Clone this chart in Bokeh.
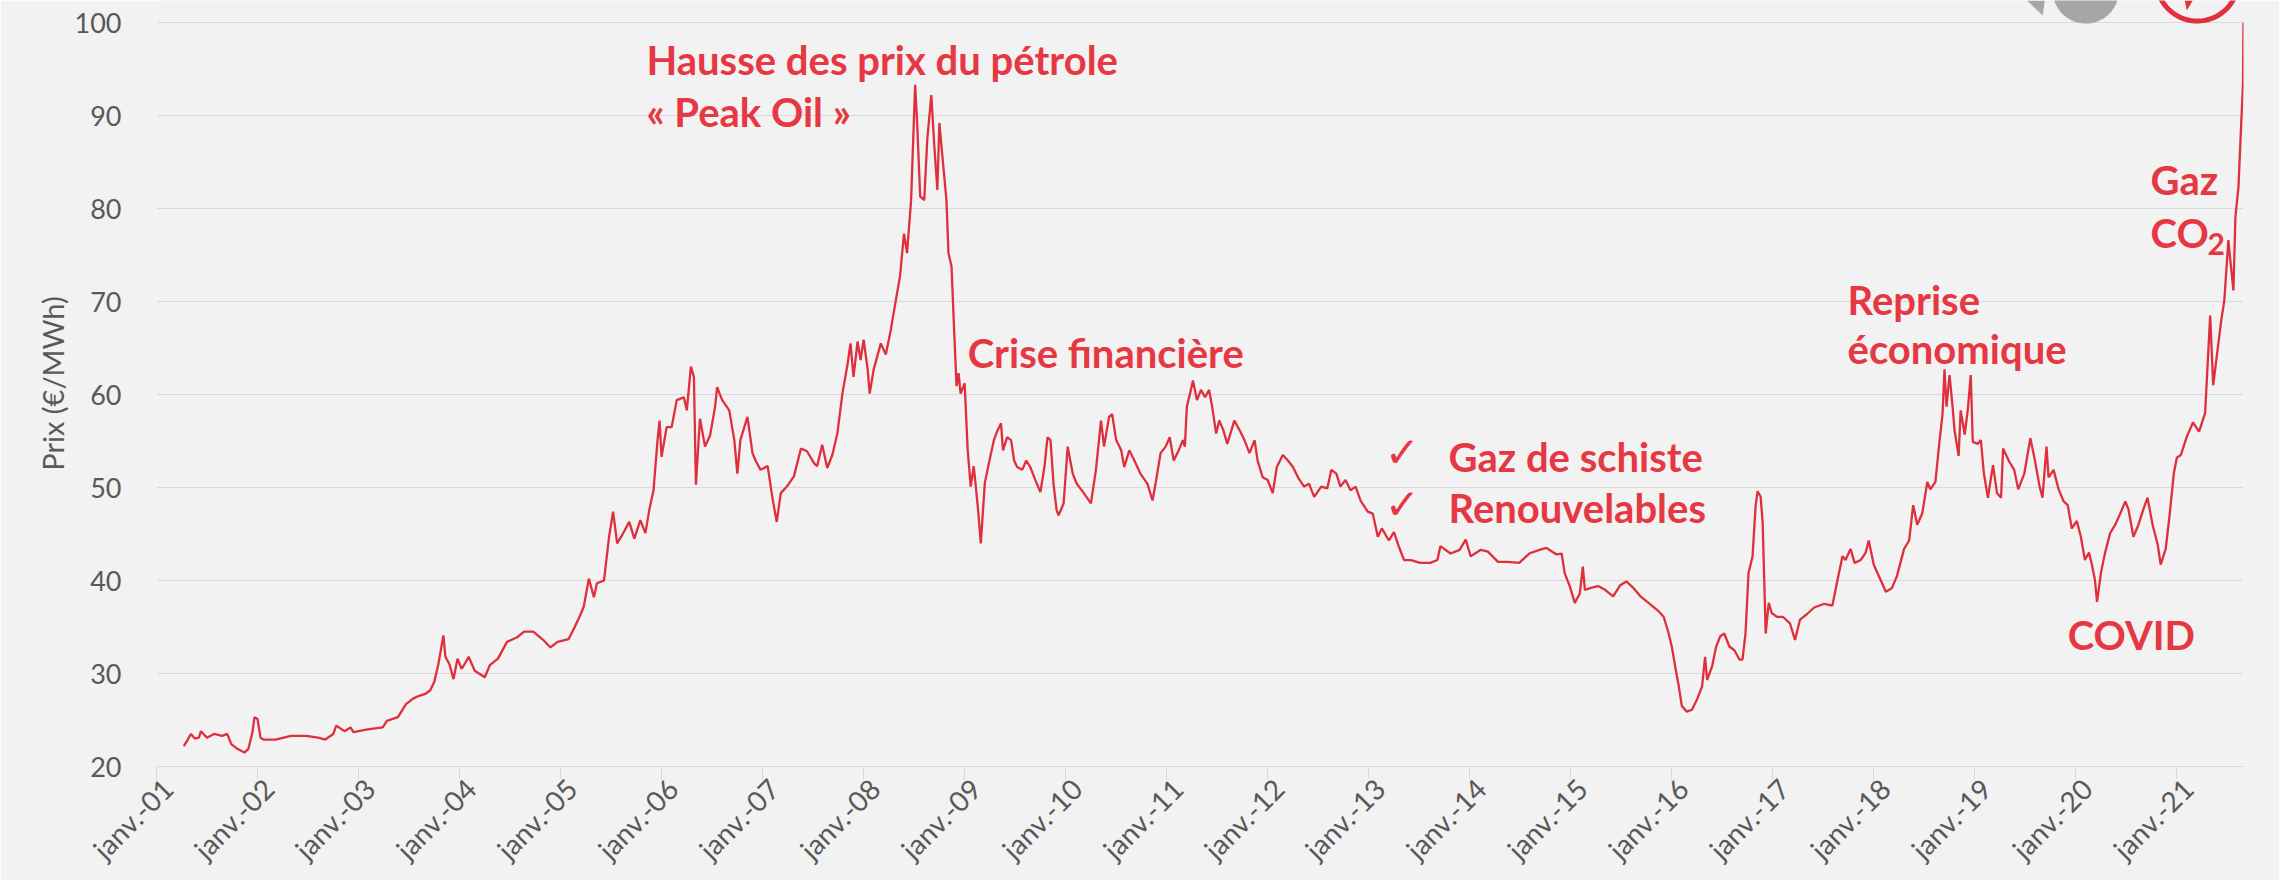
import math
import numpy as np
from bokeh.plotting import figure
from bokeh.models import Range1d, FixedTicker, ColumnDataSource, LinearAxis
from bokeh.embed import file_html
from bokeh.resources import INLINE
from bokeh.core.properties import value

# ---- series (decimal year, price EUR/MWh) ----
date_years = [
    2001.27, 2001.31, 2001.34, 2001.38, 2001.42, 2001.44, 2001.50, 2001.57, 2001.65, 2001.70,
    2001.74, 2001.80, 2001.87, 2001.91, 2001.95, 2001.97, 2002.00, 2002.03, 2002.06, 2002.18,
    2002.33, 2002.48, 2002.60, 2002.67, 2002.75, 2002.78, 2002.86, 2002.92, 2002.95, 2003.09,
    2003.24, 2003.28, 2003.39, 2003.47, 2003.54, 2003.60, 2003.66, 2003.71, 2003.75, 2003.79,
    2003.84, 2003.86, 2003.90, 2003.94, 2003.98, 2004.02, 2004.05, 2004.09, 2004.15, 2004.25,
    2004.30, 2004.38, 2004.47, 2004.57, 2004.64, 2004.73, 2004.83, 2004.90, 2004.97, 2005.08,
    2005.14, 2005.20, 2005.23, 2005.28, 2005.33, 2005.36, 2005.43, 2005.48, 2005.52, 2005.56,
    2005.61, 2005.68, 2005.73, 2005.79, 2005.84, 2005.88, 2005.92, 2005.96, 2005.98, 2006.00,
    2006.05, 2006.10, 2006.15, 2006.22, 2006.25, 2006.29, 2006.32, 2006.34, 2006.38, 2006.43,
    2006.48, 2006.53, 2006.55, 2006.60, 2006.67, 2006.72, 2006.75, 2006.78, 2006.85, 2006.90,
    2006.93, 2006.98, 2007.05, 2007.10, 2007.14, 2007.18, 2007.24, 2007.31, 2007.38, 2007.44,
    2007.51, 2007.54, 2007.59, 2007.64, 2007.69, 2007.74, 2007.79, 2007.84, 2007.87, 2007.90,
    2007.94, 2007.97, 2008.00, 2008.04, 2008.06, 2008.10, 2008.17, 2008.22, 2008.27, 2008.32,
    2008.36, 2008.40, 2008.43, 2008.47, 2008.51, 2008.53, 2008.56, 2008.60, 2008.63, 2008.67,
    2008.70, 2008.73, 2008.75, 2008.78, 2008.82, 2008.84, 2008.87, 2008.90, 2008.92, 2008.94,
    2008.96, 2009.00, 2009.03, 2009.06, 2009.09, 2009.13, 2009.16, 2009.20, 2009.24, 2009.29,
    2009.32, 2009.36, 2009.38, 2009.42, 2009.46, 2009.49, 2009.52, 2009.57, 2009.61, 2009.65,
    2009.70, 2009.75, 2009.79, 2009.82, 2009.85, 2009.88, 2009.91, 2009.93, 2009.98, 2010.02,
    2010.07, 2010.11, 2010.18, 2010.25, 2010.30, 2010.35, 2010.38, 2010.43, 2010.46, 2010.50,
    2010.55, 2010.58, 2010.63, 2010.68, 2010.74, 2010.81, 2010.86, 2010.89, 2010.94, 2010.99,
    2011.03, 2011.07, 2011.12, 2011.16, 2011.18, 2011.20, 2011.24, 2011.26, 2011.30, 2011.34,
    2011.38, 2011.42, 2011.45, 2011.49, 2011.52, 2011.56, 2011.60, 2011.67, 2011.72, 2011.77,
    2011.82, 2011.87, 2011.90, 2011.95, 2012.00, 2012.05, 2012.09, 2012.15, 2012.20, 2012.25,
    2012.30, 2012.36, 2012.41, 2012.46, 2012.53, 2012.59, 2012.63, 2012.68, 2012.72, 2012.77,
    2012.82, 2012.87, 2012.92, 2012.99, 2013.04, 2013.09, 2013.13, 2013.20, 2013.25, 2013.30,
    2013.35, 2013.42, 2013.51, 2013.61, 2013.68, 2013.71, 2013.81, 2013.90, 2013.96, 2014.01,
    2014.11, 2014.18, 2014.28, 2014.37, 2014.49, 2014.59, 2014.69, 2014.76, 2014.86, 2014.91,
    2014.94, 2014.99, 2015.04, 2015.09, 2015.12, 2015.14, 2015.20, 2015.27, 2015.34, 2015.42,
    2015.49, 2015.55, 2015.62, 2015.69, 2015.77, 2015.86, 2015.92, 2015.97, 2016.00, 2016.04,
    2016.07, 2016.10, 2016.15, 2016.20, 2016.25, 2016.30, 2016.33, 2016.35, 2016.40, 2016.44,
    2016.48, 2016.52, 2016.57, 2016.62, 2016.67, 2016.70, 2016.73, 2016.76, 2016.80, 2016.83,
    2016.85, 2016.88, 2016.90, 2016.93, 2016.96, 2016.99, 2017.04, 2017.10, 2017.17, 2017.22,
    2017.27, 2017.34, 2017.41, 2017.51, 2017.59, 2017.64, 2017.69, 2017.72, 2017.77, 2017.81,
    2017.87, 2017.92, 2017.95, 2018.00, 2018.07, 2018.12, 2018.18, 2018.23, 2018.30, 2018.35,
    2018.39, 2018.43, 2018.48, 2018.53, 2018.56, 2018.61, 2018.65, 2018.68, 2018.70, 2018.72,
    2018.75, 2018.78, 2018.80, 2018.84, 2018.86, 2018.90, 2018.93, 2018.96, 2018.98, 2019.03,
    2019.06, 2019.09, 2019.13, 2019.18, 2019.22, 2019.26, 2019.28, 2019.34, 2019.39, 2019.43,
    2019.49, 2019.55, 2019.59, 2019.64, 2019.67, 2019.71, 2019.73, 2019.78, 2019.83, 2019.88,
    2019.92, 2019.96, 2020.01, 2020.05, 2020.09, 2020.13, 2020.16, 2020.19, 2020.21, 2020.25,
    2020.29, 2020.34, 2020.39, 2020.44, 2020.49, 2020.52, 2020.57, 2020.62, 2020.67, 2020.71,
    2020.76, 2020.81, 2020.84, 2020.89, 2020.93, 2020.97, 2021.00, 2021.04, 2021.10, 2021.16,
    2021.22, 2021.28, 2021.33, 2021.36, 2021.40, 2021.44, 2021.47, 2021.51, 2021.53, 2021.56,
    2021.58, 2021.61, 2021.63, 2021.655, 2021.66,
]
price_eur_mwh = [
    22.2, 22.9, 23.5, 23.0, 23.1, 23.8, 23.1, 23.5, 23.3, 23.5,
    22.4, 21.9, 21.5, 21.9, 23.7, 25.3, 25.1, 23.1, 22.9, 22.9,
    23.3, 23.3, 23.1, 22.9, 23.5, 24.4, 23.8, 24.2, 23.7, 24.0,
    24.2, 24.9, 25.3, 26.7, 27.3, 27.6, 27.8, 28.2, 29.1, 31.0,
    34.1, 31.8, 31.0, 29.4, 31.6, 30.5, 31.0, 31.8, 30.3, 29.6,
    30.9, 31.6, 33.4, 33.9, 34.5, 34.5, 33.6, 32.8, 33.4, 33.7,
    35.0, 36.4, 37.2, 40.2, 38.2, 39.7, 40.0, 44.7, 47.4, 44.0,
    44.9, 46.3, 44.5, 46.5, 45.1, 47.7, 49.7, 55.1, 57.2, 53.3,
    56.5, 56.5, 59.4, 59.7, 58.3, 63.0, 61.9, 50.3, 57.4, 54.4,
    55.6, 58.7, 60.8, 59.4, 58.3, 55.1, 51.5, 55.1, 57.6, 53.7,
    52.9, 51.9, 52.3, 48.7, 46.3, 49.4, 50.1, 51.2, 54.2, 53.9,
    52.6, 52.3, 54.6, 52.1, 53.5, 55.8, 60.1, 63.2, 65.5, 61.9,
    65.7, 63.7, 65.9, 62.7, 60.1, 62.7, 65.5, 64.3, 67.0, 70.2,
    72.7, 77.3, 75.2, 80.9, 93.3, 89.2, 81.3, 80.9, 87.4, 92.2,
    86.7, 82.0, 89.2, 85.6, 80.9, 75.2, 73.8, 65.9, 60.9, 62.3,
    60.1, 61.2, 54.1, 50.1, 52.3, 48.0, 44.0, 50.5, 52.6, 55.1,
    56.0, 56.9, 54.0, 55.4, 55.1, 52.9, 52.2, 51.9, 52.9, 52.2,
    50.8, 49.5, 52.2, 55.4, 55.1, 50.4, 47.6, 47.0, 48.3, 54.4,
    51.5, 50.4, 49.4, 48.3, 51.9, 57.2, 54.4, 57.6, 57.9, 55.1,
    54.0, 52.2, 54.0, 52.9, 51.5, 50.4, 48.6, 50.4, 53.7, 54.4,
    55.4, 52.9, 54.0, 55.1, 54.4, 58.7, 60.5, 61.5, 59.4, 60.5,
    59.7, 60.5, 58.7, 55.8, 57.2, 56.2, 54.7, 57.2, 56.2, 55.1,
    53.7, 55.1, 52.9, 51.1, 50.8, 49.4, 52.2, 53.5, 52.9, 52.2,
    51.1, 50.1, 50.4, 49.0, 50.1, 49.9, 51.9, 51.5, 50.1, 50.8,
    49.7, 50.1, 48.6, 47.4, 47.2, 44.7, 45.6, 44.3, 45.2, 43.6,
    42.2, 42.2, 41.9, 41.9, 42.2, 43.7, 42.9, 43.3, 44.4, 42.6,
    43.3, 43.1, 42.0, 42.0, 41.9, 42.9, 43.3, 43.5, 42.8, 42.9,
    40.8, 39.4, 37.6, 38.6, 41.5, 39.0, 39.2, 39.4, 39.0, 38.3,
    39.5, 39.9, 39.2, 38.3, 37.6, 36.8, 36.1, 34.3, 32.9, 30.4,
    28.6, 26.5, 25.9, 26.1, 27.2, 28.6, 31.8, 29.3, 30.8, 32.9,
    34.0, 34.3, 32.9, 32.5, 31.5, 31.5, 34.3, 40.8, 42.6, 48.0,
    49.6, 49.0, 46.2, 34.3, 37.6, 36.5, 36.1, 36.1, 35.4, 33.6,
    35.8, 36.4, 37.1, 37.5, 37.3, 40.0, 42.6, 42.2, 43.4, 41.9,
    42.2, 43.0, 44.3, 41.7, 40.0, 38.8, 39.2, 40.5, 43.4, 44.3,
    48.1, 46.0, 47.2, 50.6, 49.8, 50.6, 54.9, 57.8, 62.7, 58.7,
    62.1, 58.7, 56.1, 53.4, 58.3, 55.7, 58.3, 62.1, 54.9, 54.7,
    55.1, 51.5, 48.9, 52.4, 49.4, 48.9, 54.2, 52.8, 51.9, 49.8,
    51.5, 55.3, 53.2, 50.2, 48.9, 54.4, 51.1, 51.9, 49.8, 48.5,
    48.1, 45.6, 46.4, 44.7, 42.2, 43.0, 41.7, 40.0, 37.7, 40.9,
    43.0, 45.1, 46.0, 47.2, 48.5, 47.7, 44.7, 46.0, 47.7, 48.9,
    46.0, 43.9, 41.7, 43.4, 47.2, 51.5, 53.2, 53.5, 55.5, 57.0,
    56.0, 58.0, 68.5, 61.0, 64.5, 68.0, 70.1, 76.6, 74.4, 71.2,
    79.1, 82.3, 87.3, 93.4, 100.0,
]

# ---- axes ----
tick_years = list(range(2001, 2022))
tick_labels = ["janv.-%02d" % (y % 100) for y in tick_years]
price_ticks = [20, 30, 40, 50, 60, 70, 80, 90, 100]

# ---- annotations ----
note_text = ["Hausse des prix du pétrole", "« Peak Oil »", "Crise financière",
             "Gaz de schiste", "Renouvelables", "Reprise", "économique",
             "Gaz", "CO", "COVID"]
note_x = [2005.85, 2005.85, 2009.03, 2013.79, 2013.79, 2017.74, 2017.74,
          2020.74, 2020.74, 2019.92]
note_y = [94.5, 88.9, 63.0, 51.8, 46.3, 68.7, 63.4, 81.6, 75.9, 32.6]
check_x = [2013.16, 2013.16]
check_y = [52.6, 47.0]
sub_text = ["2"]
sub_x = [2020.74]
sub_y = [75.9]

RED_LINE = "#DF2F3D"
RED_TEXT = "#E63843"
GRID = "#D9D9D9"
LABEL = "#595959"
BG = "#F2F2F2"

# plot area reaches the top edge so the cut-off logos above 100 can be drawn
p = figure(width=2279, height=880, output_backend="svg", toolbar_location=None,
           x_range=Range1d(2001.0, 2021.66), y_range=Range1d(20, 102.37),
           min_border_left=156, min_border_right=36, min_border_top=0,
           min_border_bottom=114, background_fill_color=BG, border_fill_color=BG)
p.outline_line_color = None

src = ColumnDataSource(data=dict(t=date_years, v=price_eur_mwh))
p.line(x="t", y="v", source=src, line_color=RED_LINE, line_width=2.3)

# x axis: line + tick marks at each January
p.xaxis.ticker = FixedTicker(ticks=tick_years)
p.xaxis.major_label_overrides = {y: "" for y in tick_years}
p.xaxis.major_label_standoff = 0
p.xaxis.axis_line_color = GRID
p.xaxis.axis_line_width = 1
p.xaxis.major_tick_line_color = GRID
p.xaxis.major_tick_out = 13
p.xaxis.major_tick_in = 0
p.xaxis.minor_tick_line_color = None
p.xaxis.minor_tick_out = 0
p.xgrid.visible = False

# x axis tick labels (rotated), set so that their ends sit just right of each tick
label_shift = 0.11
label_pos = [y + label_shift for y in tick_years]
lab_axis = LinearAxis(ticker=FixedTicker(ticks=label_pos),
                      major_label_overrides={x: l for x, l in zip(label_pos, tick_labels)},
                      major_label_orientation=math.pi / 4,
                      axis_line_color=None, major_tick_line_color=None,
                      minor_tick_line_color=None, major_tick_out=0, major_tick_in=0,
                      minor_tick_out=0, minor_tick_in=0,
                      major_label_text_font="Lato", major_label_text_font_size="28px",
                      major_label_text_color=LABEL, major_label_standoff=4)
p.add_layout(lab_axis, "below")

# y axis
p.yaxis.ticker = FixedTicker(ticks=price_ticks)
p.yaxis.axis_line_color = None
p.yaxis.major_tick_line_color = None
p.yaxis.major_tick_out = 0
p.yaxis.major_tick_in = 0
p.yaxis.minor_tick_line_color = None
p.yaxis.minor_tick_out = 0
p.yaxis.major_label_text_font = "Lato"
p.yaxis.major_label_text_font_size = "27px"
p.yaxis.major_label_text_color = LABEL
p.yaxis.major_label_standoff = 35
p.yaxis.axis_label = "Prix (€/MWh)"
p.yaxis.axis_label_text_font = "Lato"
p.yaxis.axis_label_text_font_size = "29px"
p.yaxis.axis_label_text_font_style = "normal"
p.yaxis.axis_label_text_color = LABEL
p.yaxis.axis_label_standoff = 2
p.ygrid.ticker = FixedTicker(ticks=price_ticks)
p.ygrid.grid_line_color = GRID
p.ygrid.grid_line_width = 1

# annotations
p.text(x=note_x, y=note_y, text=note_text, text_font=value("Lato"),
       text_font_style="bold", text_font_size="40px", text_color=RED_TEXT,
       text_align="left", text_baseline="alphabetic", y_offset=-14)
p.text(x=check_x, y=check_y, text=["✓", "✓"], text_font=value("DejaVu Sans"),
       text_font_size="42px", text_color=RED_TEXT, text_align="left",
       text_baseline="alphabetic", y_offset=-11)
p.text(x=sub_x, y=sub_y, text=sub_text, text_font=value("Lato"),
       text_font_style="bold", text_font_size="30px", text_color=RED_TEXT,
       text_align="left", text_baseline="alphabetic", x_offset=57, y_offset=-3)

# decorative logo fragments, cut off at the top edge
ang = np.linspace(0, 2 * np.pi, 120)
p.line(x=2021.203 + 0.406 * np.cos(ang), y=104.57 + 4.41 * np.sin(ang),
       line_color="#E0303D", line_width=5)
p.patch(x=[2021.079, 2021.158, 2021.099], y=[102.37, 102.37, 101.29],
        fill_color="#E0303D", line_color=None)
p.patch(x=2020.099 + 0.327 * np.cos(ang), y=103.44 + 3.55 * np.sin(ang),
        fill_color="#A6A6A6", line_color=None)
p.patch(x=[2019.515, 2019.693, 2019.673], y=[102.37, 102.37, 100.75],
        fill_color="#A6A6A6", line_color=None)

open("out.html", "w").write(file_html(p, INLINE))
